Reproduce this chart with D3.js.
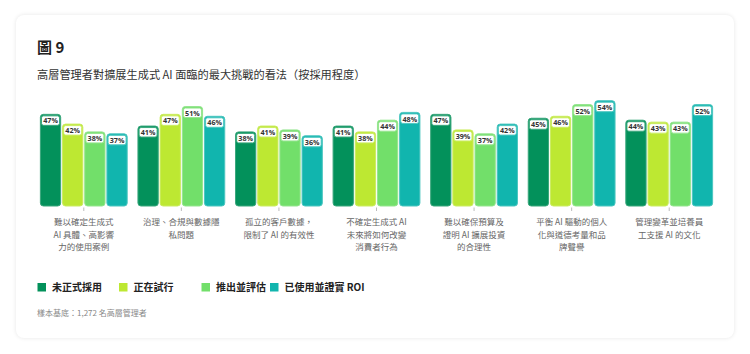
<!DOCTYPE html>
<html>
<head>
<meta charset="utf-8">
<script src="https://cdn.jsdelivr.net/npm/d3@7"></script>
<style>
  body { margin: 0; background: #fff; font-family: "Noto Sans CJK TC", "Noto Sans", sans-serif; }
  #card {
    position: absolute; left: 16px; top: 15px; width: 718px; height: 323px;
    background: #fff; border-radius: 8px;
    box-shadow: 0 0 4px rgba(0,0,0,0.10);
  }
  svg { position: absolute; left: 0; top: 0; }
</style>
</head>
<body>
<div id="card"></div>
<div id="chart"></div>
<script>
// categories and series (percent of executives)
const categories = [
    ["難以確定生成式", "AI 具體、高影響", "力的使用案例"],
    ["治理、合規與數據隱", "私問題"],
    ["孤立的客戶數據，", "限制了 AI 的有效性"],
    ["不確定生成式 AI", "未來將如何改變", "消費者行為"],
    ["難以確保預算及", "證明 AI 擴展投資", "的合理性"],
    ["平衡 AI 驅動的個人", "化與道德考量和品", "牌聲譽"],
    ["管理變革並培養員", "工支援 AI 的文化"]
];
const seriesNames = ["未正式採用", "正在試行", "推出並評估", "已使用並證實 ROI"];
const notAdopted = [47, 41, 38, 41, 47, 45, 44];
const piloting   = [42, 47, 41, 38, 39, 46, 43];
const rollingOut = [38, 51, 39, 44, 37, 52, 43];
const provenROI  = [37, 46, 36, 48, 42, 54, 52];
const colors = ["#03915b", "#bde832", "#72df6a", "#11b5ae"];
const strokes = ["#3aa77c", "#cbec62", "#95e58f", "#4cc6c0"];

const width = 750, height = 354;
const baseline = 206;

const series = [notAdopted, piloting, rollingOut, provenROI];
const data = categories.map((c, i) => ({
    label: c,
    values: series.map((s, j) => ({key: j, value: s[i]}))
}));

const svg = d3.select("#chart").append("svg")
    .attr("width", width)
    .attr("height", height);

// title + subtitle
svg.append("text")
    .attr("x", 37).attr("y", 53)
    .attr("font-size", 15).attr("font-weight", 700).attr("fill", "#222")
    .text("圖 9");
svg.append("text")
    .attr("x", 37).attr("y", 79)
    .attr("font-size", 11.2).attr("fill", "#333")
    .text("高層管理者對擴展生成式 AI 面臨的最大挑戰的看法（按採用程度）");

const x0 = d3.scaleBand()
    .domain(d3.range(categories.length))
    .range([35, 718])
    .paddingInner(0.1)
    .paddingOuter(0.05);

const x1 = d3.scaleBand()
    .domain(d3.range(seriesNames.length))
    .range([0, x0.bandwidth()])
    .paddingInner(0.04);

const y = d3.scaleLinear()
    .domain([0, 60])
    .range([baseline, baseline - 117]);

const groups = svg.selectAll(".group")
    .data(data)
    .join("g")
    .attr("class", "group")
    .attr("transform", (d, i) => `translate(${x0(i)},0)`);

groups.selectAll(".bar")
    .data(d => d.values)
    .join("path")
    .attr("class", "bar")
    .attr("d", d => {
        const bx = x1(d.key) + 0.5, bw = x1.bandwidth() - 1;
        const by = y(d.value), bh = baseline - by;
        const r = 3;
        return `M${bx},${by + r}a${r},${r} 0 0 1 ${r},${-r}h${bw - 2 * r}a${r},${r} 0 0 1 ${r},${r}` +
            `v${bh - 2 * r}a${r},${r} 0 0 1 ${-r},${r}h${-(bw - 2 * r)}a${r},${r} 0 0 1 ${-r},${-r}z`;
    })
    .attr("fill", d => colors[d.key])
    .attr("stroke", d => strokes[d.key])
    .attr("stroke-width", 1);

// value labels
const lab = groups.selectAll(".lab")
    .data(d => d.values)
    .join("g")
    .attr("class", "lab")
    .attr("transform", d => `translate(${x1(d.key) + x1.bandwidth() / 2},${y(d.value) + 1.5})`);

lab.append("rect")
    .attr("x", -9).attr("y", 0)
    .attr("width", 18).attr("height", 9.5)
    .attr("rx", 2)
    .attr("fill", "#fff")
    .attr("stroke", d => strokes[d.key])
    .attr("stroke-width", 1);

lab.append("text")
    .attr("y", 7.6)
    .attr("text-anchor", "middle")
    .attr("font-size", 7.2)
    .attr("font-weight", 700)
    .attr("fill", "#333")
    .attr("font-family", "'Open Sans', sans-serif")
    .text(d => d.value + "%");

// ticks + category labels
const axis = svg.selectAll(".cat")
    .data(data)
    .join("g")
    .attr("class", "cat")
    .attr("transform", (d, i) => `translate(${x0(i) + x0.bandwidth() / 2},0)`);

axis.append("line")
    .attr("y1", baseline + 1.5).attr("y2", baseline + 5)
    .attr("stroke", "#aaa").attr("stroke-width", 0.8);

axis.selectAll("text")
    .data(d => d.label)
    .join("text")
    .attr("y", (d, i) => 225 + i * 12.7)
    .attr("text-anchor", "middle")
    .attr("font-size", 8.5)
    .attr("fill", "#666")
    .text(d => d);

// legend
const legendX = [37.5, 119, 201.5, 270];
const legend = svg.selectAll(".legend")
    .data(seriesNames)
    .join("g")
    .attr("class", "legend")
    .attr("transform", (d, i) => `translate(${legendX[i]},283)`);

legend.append("rect")
    .attr("width", 8.5).attr("height", 8.5)
    .attr("fill", (d, i) => colors[i]);

legend.append("text")
    .attr("x", 14.5).attr("y", 8)
    .attr("font-size", 10)
    .attr("font-weight", 700)
    .attr("fill", "#222")
    .text(d => d);

svg.append("text")
    .attr("x", 37).attr("y", 316)
    .attr("font-size", 8)
    .attr("fill", "#888")
    .text("樣本基底：1,272 名高層管理者");
</script>
</body>
</html>
